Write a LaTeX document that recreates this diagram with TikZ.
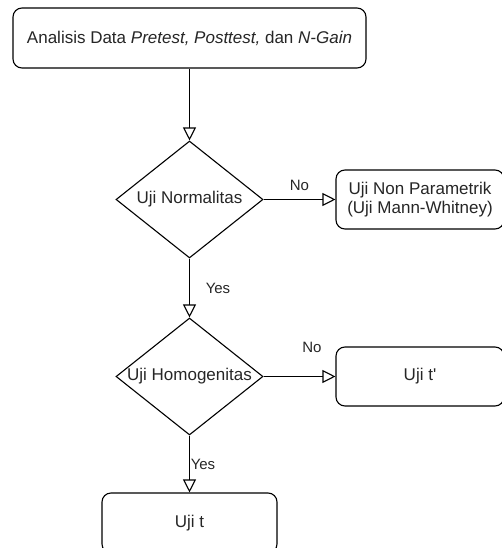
\documentclass[tikz,border=0pt]{standalone}
\usepackage{fontspec}
\setmainfont{Liberation Sans}
\usetikzlibrary{shapes.geometric,arrows.meta}
\definecolor{txtc}{HTML}{262626}
\tikzset{
  box/.style={draw=black, line width=1.1pt, rounded corners=9pt, fill=white, inner sep=0pt, text=txtc, font=\fontsize{17}{19.5}\selectfont, align=center},
  dec/.style={draw=black, line width=1.1pt, diamond, inner sep=0pt},
  dtxt/.style={text=txtc, font=\fontsize{17}{19.5}\selectfont, inner sep=0pt},
  lbl/.style={text=txtc, font=\fontsize{15}{18}\selectfont, inner sep=0pt},
  conn/.style={draw=black, line width=1.1pt, -{Triangle[open, length=13pt, width=13pt]}}
}
\begin{document}
\begin{tikzpicture}[x=1pt, y=-1pt]
\useasboundingbox (0,0) rectangle (502,548);
\clip (0,0) rectangle (502,548);
\node[box, minimum width=353pt, minimum height=60pt] (top) at (189.5,38) {Analisis Data \textit{Pretest, Posttest,} dan \textit{N-Gain}};
\node[dec, minimum width=147pt, minimum height=117pt] (d1) at (189.5,199.5) {};
\node[dtxt] (t1) at (d1.center) {Uji Normalitas};
\node[box, minimum width=168pt, minimum height=59pt] (b2) at (420,199.5) {Uji Non Parametrik\\(Uji Mann-Whitney)};
\node[dec, minimum width=147pt, minimum height=117pt] (d2) at (189.5,376.5) {};
\node[dtxt] (t2) at (d2.center) {Uji Homogenitas};
\node[box, minimum width=168pt, minimum height=59pt] (b3) at (420,376.5) {Uji t\textquotesingle};
\node[box, minimum width=175pt, minimum height=60pt] (b4) at (189.5,523) {Uji t};
\draw[conn] (top) -- (d1.north);
\draw[conn] (d1.east) -- node[lbl, midway, yshift=14.5pt] {No} (b2.west);
\draw[conn] (d1.south) -- node[lbl, midway, xshift=28.5pt] {Yes} (d2.north);
\draw[conn] (d2.east) -- node[lbl, midway, xshift=12.5pt, yshift=29.5pt] {No} (b3.west);
\draw[conn] (d2.south) -- node[lbl, midway, xshift=13.5pt] {Yes} (b4.north);
\end{tikzpicture}
\end{document}
